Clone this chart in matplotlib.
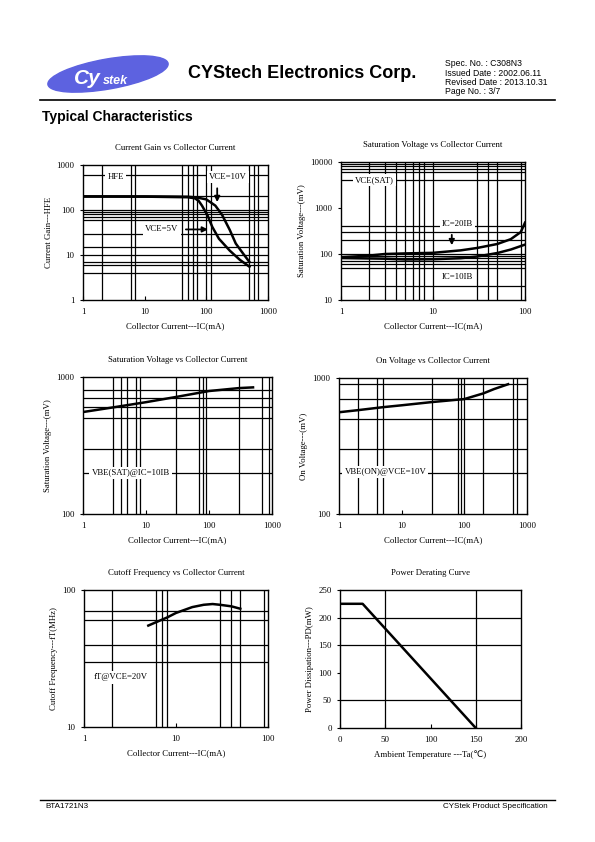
import matplotlib.pyplot as plt
from matplotlib.patches import Ellipse

# curve data
hfe_ic_10v = [1, 10, 50, 70, 100, 140, 180, 240, 300, 400, 500]
hfe_10v = [200, 200, 197, 190, 172, 125, 78, 36, 18, 10.5, 7]
hfe_ic_5v = [1, 10, 50, 65, 75, 85, 105, 125, 160, 240, 350, 500]
hfe_5v = [200, 198, 192, 182, 160, 125, 75, 42, 23, 12.5, 7.8, 5.5]

sat_ic_20 = [1, 2, 3, 5, 10, 20, 30, 50, 70, 90, 100]
sat_20 = [85, 92, 100, 103, 106, 120, 135, 165, 210, 300, 480]
sat_ic_10 = [1, 3, 5, 10, 20, 30, 50, 70, 100]
sat_10 = [82, 79, 76, 77, 81, 88, 105, 125, 160]

vbesat_ic = [1, 3, 10, 30, 100, 300, 500]
vbesat = [555, 600, 655, 715, 790, 830, 840]

vbeon_ic = [1, 2, 5, 10, 30, 100, 200, 300, 500]
vbeon = [560, 580, 610, 630, 665, 700, 770, 830, 900]

ft_ic = [5, 6, 8, 10, 15, 20, 25, 30, 40, 50]
ft = [55, 58, 63, 68, 75, 78, 79, 78, 76, 73]

ta = [0, 25, 150]
pd_mw = [225, 225, 0]

# grid lines as drawn on the sheet
g1_v = [2, 6, 7, 40, 50, 60, 70, 100, 120, 500, 600, 700]
g1_h = [600, 200, 100, 90, 80, 70, 60, 30, 15, 10, 7, 6, 4]
g2_v = [2, 3, 4, 5, 6, 7, 8, 10, 30, 40, 50, 90]
g2_h = [9000, 8000, 7000, 6000, 4000, 400, 300, 200, 100, 90, 80, 70, 60, 50, 20]
g3_v = [3, 4, 5, 7, 8, 30, 70, 80, 90, 300, 700, 900]
g3_h = [800, 700, 600, 500, 300, 200]
g4_v = [2, 4, 5, 30, 80, 90, 100, 200, 600, 700]
g4_h = [900, 700, 500, 300, 200]
g5_v = [2, 6, 7, 8, 30, 40, 50, 90]
g5_h = [70, 60, 40, 30]
g6_v = [50, 150]
g6_h = [50, 150, 200]

serif = ['Liberation Serif', 'DejaVu Sans']
sans = 'Liberation Sans'
fs = 6.3

fig = plt.figure(figsize=(5.95, 8.42), dpi=100)

# header / footer in pixel coordinates
ax0 = fig.add_axes([0, 0, 1, 1])
ax0.set_xlim(0, 595)
ax0.set_ylim(842, 0)
ax0.axis('off')
ax0.add_patch(Ellipse((108, 74), 122, 30, angle=-10, color='#5d62e0'))
ax0.text(74, 79, 'Cy', color='white', fontsize=15, fontweight='bold', style='italic',
         family=sans, va='center')
ax0.text(103, 81, 'stek', color='white', fontsize=9, fontweight='bold', style='italic',
         family=sans, va='center')
ax0.text(188, 73, 'CYStech Electronics Corp.', fontsize=13, fontweight='bold',
         family=sans, va='center')
spec = ['Spec. No. : C308N3', 'Issued Date : 2002.06.11',
        'Revised Date : 2013.10.31', 'Page No. : 3/7']
for i, s in enumerate(spec):
    ax0.text(445, 64 + i * 9.3, s, fontsize=6.2, family=sans, va='center')
ax0.plot([40, 555], [100, 100], color='black', lw=1.2)
ax0.text(42, 117, 'Typical Characteristics', fontsize=10, fontweight='bold',
         family=sans, va='center')
ax0.plot([40, 555], [800, 800], color='black', lw=1)
ax0.text(45, 806, 'BTA1721N3', fontsize=5.8, family=sans, va='center')
ax0.text(548, 806, 'CYStek Product Specification', fontsize=5.8,
         family=sans, va='center', ha='right')


def px_axes(l, r, t, b):
    return fig.add_axes([l / 595, 1 - b / 842, (r - l) / 595, (b - t) / 842])


def setup(ax, title, xlabel, ylabel, vgrid, hgrid, logx=True, logy=True):
    if logx:
        ax.set_xscale('log')
    if logy:
        ax.set_yscale('log')
    for v in vgrid:
        ax.axvline(v, color='black', lw=0.9, zorder=1)
    for h in hgrid:
        ax.axhline(h, color='black', lw=0.9, zorder=1)
    ax.minorticks_off()
    ax.set_title(title, fontsize=fs, family=serif, pad=11)
    ax.set_xlabel(xlabel, fontsize=fs, family=serif, labelpad=4)
    ax.set_ylabel(ylabel, fontsize=fs, family=serif, labelpad=3)
    ax.tick_params(axis='x', direction='in', length=3, labelsize=fs, pad=6)
    ax.tick_params(axis='y', direction='out', length=2, labelsize=fs, pad=4)
    for sp in ax.spines.values():
        sp.set_linewidth(1.0)


def set_ticks(ax, xt, yt):
    ax.set_xticks(xt)
    ax.set_xticklabels([str(v) for v in xt], family=serif, fontsize=fs)
    ax.set_yticks(yt)
    ax.set_yticklabels([str(v) for v in yt], family=serif, fontsize=fs)


box = dict(facecolor='white', edgecolor='none', pad=1.5)
arrow = dict(arrowstyle='-|>', color='black', lw=1.3, mutation_scale=8)
xl = 'Collector Current---IC(mA)'
lw = 1.8

# 1 current gain
ax = px_axes(83, 268, 165, 300)
setup(ax, 'Current Gain vs Collector Current', xl, 'Current Gain---HFE', g1_v, g1_h)
ax.plot(hfe_ic_10v, hfe_10v, color='black', lw=lw, zorder=3)
ax.plot(hfe_ic_5v, hfe_5v, color='black', lw=lw, zorder=3)
ax.set_xlim(1, 1000)
ax.set_ylim(1, 1000)
set_ticks(ax, [1, 10, 100, 1000], [1, 10, 100, 1000])
ax.text(3.4, 550, 'HFE', fontsize=fs, family=serif, ha='center', va='center', bbox=box, zorder=4)
ax.text(225, 550, 'VCE=10V', fontsize=fs, family=serif, ha='center', va='center', bbox=box, zorder=4)
ax.annotate('', xy=(150, 130), xytext=(150, 350), arrowprops=arrow, zorder=4)
ax.text(19, 37, 'VCE=5V', fontsize=fs, family=serif, ha='center', va='center', bbox=box, zorder=4)
ax.annotate('', xy=(118, 37), xytext=(42, 37), arrowprops=arrow, zorder=4)

# 2 VCE(SAT)
ax = px_axes(341, 525, 162, 300)
setup(ax, 'Saturation Voltage vs Collector Current', xl, 'Saturation Voltage---(mV)', g2_v, g2_h)
ax.plot(sat_ic_20, sat_20, color='black', lw=lw, zorder=3)
ax.plot(sat_ic_10, sat_10, color='black', lw=lw, zorder=3)
ax.set_xlim(1, 100)
ax.set_ylim(10, 10000)
set_ticks(ax, [1, 10, 100], [10, 100, 1000, 10000])
ax.text(2.3, 4000, 'VCE(SAT)', fontsize=fs, family=serif, ha='center', va='center', bbox=box, zorder=4)
ax.text(18.5, 455, 'IC=20IB', fontsize=fs, family=serif, ha='center', va='center', bbox=box, zorder=4)
ax.annotate('', xy=(16, 135), xytext=(16, 300), arrowprops=arrow, zorder=4)
ax.text(18.5, 32, 'IC=10IB', fontsize=fs, family=serif, ha='center', va='center', bbox=box, zorder=4)

# 3 VBE(SAT)
ax = px_axes(83, 272, 377, 514)
setup(ax, 'Saturation Voltage vs Collector Current', xl, 'Saturation Voltage---(mV)', g3_v, g3_h)
ax.plot(vbesat_ic, vbesat, color='black', lw=lw, zorder=3)
ax.set_xlim(1, 1000)
ax.set_ylim(100, 1000)
set_ticks(ax, [1, 10, 100, 1000], [100, 1000])
ax.text(5.7, 200, 'VBE(SAT)@IC=10IB', fontsize=fs, family=serif, ha='center', va='center', bbox=box, zorder=4)

# 4 VBE(ON)
ax = px_axes(339, 527, 378, 514)
setup(ax, 'On Voltage vs Collector Current', xl, 'On Voltage---(mV)', g4_v, g4_h)
ax.plot(vbeon_ic, vbeon, color='black', lw=lw, zorder=3)
ax.set_xlim(1, 1000)
ax.set_ylim(100, 1000)
set_ticks(ax, [1, 10, 100, 1000], [100, 1000])
ax.text(5.5, 205, 'VBE(ON)@VCE=10V', fontsize=fs, family=serif, ha='center', va='center', bbox=box, zorder=4)

# 5 fT
ax = px_axes(84, 268, 590, 727)
setup(ax, 'Cutoff Frequency vs Collector Current', xl, 'Cutoff Frequency---fT(MHz)', g5_v, g5_h)
ax.plot(ft_ic, ft, color='black', lw=lw, zorder=3)
ax.set_xlim(1, 100)
ax.set_ylim(10, 100)
set_ticks(ax, [1, 10, 100], [10, 100])
ax.text(2.5, 23, 'fT@VCE=20V', fontsize=fs, family=serif, ha='center', va='center', bbox=box, zorder=4)

# 6 power derating
ax = px_axes(340, 521, 590, 728)
setup(ax, 'Power Derating Curve', 'Ambient Temperature ---Ta(\u2103)', 'Power Dissipation---PD(mW)',
      g6_v, g6_h, logx=False, logy=False)
ax.plot(ta, pd_mw, color='black', lw=lw, zorder=3)
ax.set_xlim(0, 200)
ax.set_ylim(0, 250)
set_ticks(ax, [0, 50, 100, 150, 200], [0, 50, 100, 150, 200, 250])

fig.savefig('out.png', dpi=100)
